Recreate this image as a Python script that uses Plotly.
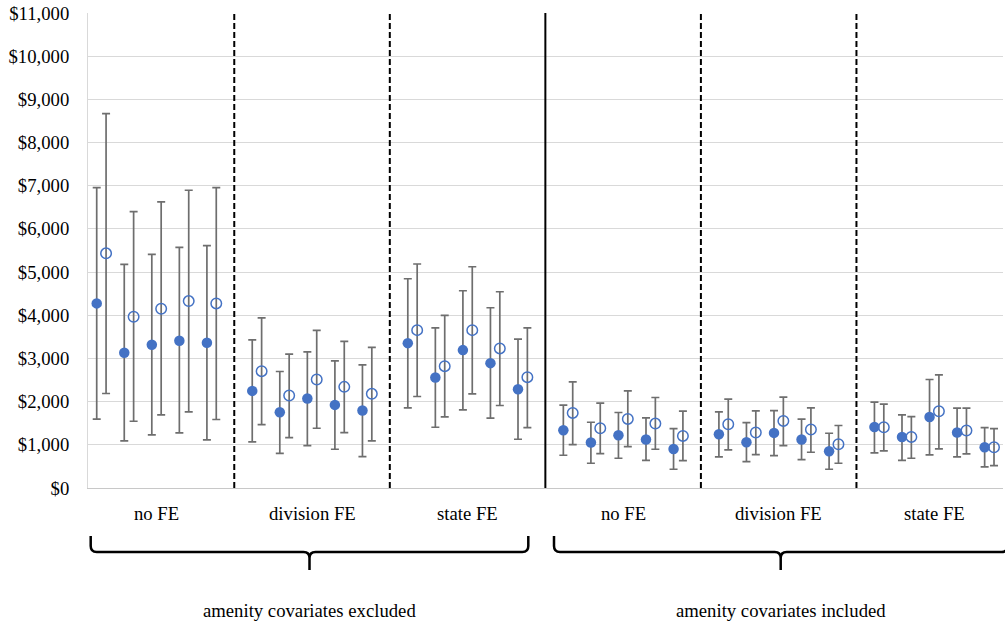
import plotly.graph_objects as go

# ---------------- data ----------------
panels = ["no FE", "division FE", "state FE", "no FE", "division FE", "state FE"]
groups = ["amenity covariates excluded", "amenity covariates included"]
pairs_per_panel = 5

filled_est = [4275, 3131, 3316, 3409, 3362, 2249, 1755, 2072, 1925, 1794,
              3355, 2560, 3193, 2891, 2288, 1338, 1052, 1222, 1122, 905,
              1245, 1060, 1276, 1122, 851, 1414, 1183, 1646, 1284, 944]
filled_lo = [1593, 1090, 1229, 1275, 1113, 1067, 804, 982, 897, 728,
             1855, 1407, 1809, 1616, 1129, 758, 573, 689, 642, 434,
             719, 612, 751, 658, 434, 812, 642, 765, 719, 487]
filled_hi = [6956, 5180, 5412, 5574, 5611, 3432, 2698, 3153, 2945, 2852,
             4846, 3710, 4568, 4174, 3448, 1917, 1523, 1748, 1623, 1377,
             1762, 1516, 1794, 1593, 1268, 1987, 1693, 2513, 1848, 1400]
open_est = [5435, 3965, 4150, 4329, 4275, 2706, 2142, 2513, 2342, 2180,
            3656, 2822, 3656, 3232, 2567, 1739, 1384, 1600, 1492, 1206,
            1477, 1284, 1554, 1354, 1013, 1407, 1183, 1778, 1331, 944]
open_lo = [2188, 1546, 1693, 1762, 1586, 1469, 1168, 1384, 1284, 1090,
           2119, 1646, 2180, 1910, 1400, 1006, 797, 959, 897, 635,
           881, 774, 982, 828, 573, 858, 689, 904, 788, 519]
open_hi = [8672, 6400, 6624, 6895, 6956, 3942, 3100, 3649, 3394, 3255,
           5187, 3997, 5124, 4545, 3710, 2458, 1964, 2249, 2096, 1778,
           2057, 1786, 2103, 1855, 1447, 1941, 1655, 2620, 1848, 1377]

# ---------------- layout geometry ----------------
W, H = 1005, 623
ML, MR, MT, MB = 88, 2, 13, 135
PLOT_W = W - ML - MR
PLOT_H = H - MT - MB

SLOT_PX = 27.55           # pixel width of one pair step
X_MAX = PLOT_W / SLOT_PX
FIRST = 0.316             # first filled point
PERIOD = 5.646            # panel period
OPEN_OFF = 0.34           # open-marker offset from filled

def pos(i):
    p, k = divmod(i, pairs_per_panel)
    return FIRST + p * PERIOD + k

xf = [pos(i) for i in range(len(filled_est))]
xo = [x + OPEN_OFF for x in xf]

def px2paper_x(px):
    return (px - ML) / PLOT_W

def py2paper_y(py):
    return (H - MB - py) / PLOT_H

def x2paper(x):
    return x / X_MAX

BLUE = "#4472C4"
ERR = "#6e6e6e"
FONT = "Liberation Serif, Times New Roman, serif"

fig = go.Figure()
fig.add_trace(go.Scatter(
    x=xf, y=filled_est, mode="markers",
    marker=dict(symbol="circle", size=10.5, color=BLUE),
    error_y=dict(type="data", symmetric=False,
                 array=[h - e for h, e in zip(filled_hi, filled_est)],
                 arrayminus=[e - l for e, l in zip(filled_est, filled_lo)],
                 color=ERR, thickness=1.7, width=4),
    showlegend=False, cliponaxis=False))
fig.add_trace(go.Scatter(
    x=xo, y=open_est, mode="markers",
    marker=dict(symbol="circle-open", size=10.5, color=BLUE, line=dict(width=1.5, color=BLUE)),
    error_y=dict(type="data", symmetric=False,
                 array=[h - e for h, e in zip(open_hi, open_est)],
                 arrayminus=[e - l for e, l in zip(open_est, open_lo)],
                 color=ERR, thickness=1.7, width=4),
    showlegend=False, cliponaxis=False))

shapes = []
annotations = []
n_panels = len(panels)
for p in range(n_panels - 1):
    last_open = pos(p * pairs_per_panel + pairs_per_panel - 1) + OPEN_OFF
    next_first = pos((p + 1) * pairs_per_panel)
    bx = (last_open + next_first) / 2
    solid = (p == 2)
    shapes.append(dict(type="line", xref="x", yref="paper", x0=bx, x1=bx, y0=0, y1=1,
                       line=dict(color="black", width=2,
                                 dash="solid" if solid else "6px,3px")))

for p, name in enumerate(panels):
    first = pos(p * pairs_per_panel)
    last = pos(p * pairs_per_panel + pairs_per_panel - 1) + OPEN_OFF
    cx = (first + last) / 2
    annotations.append(dict(x=x2paper(cx), y=py2paper_y(513), xref="paper", yref="paper",
                            text=name, showarrow=False,
                            font=dict(family=FONT, size=18.7, color="black"),
                            xanchor="center", yanchor="middle"))

# braces
brace_spans = [(90.7, 528.3), (554.0, 1007.4)]
for (x0p, x1p), label in zip(brace_spans, groups):
    xm = (x0p + x1p) / 2
    ytop, yh, ytip = 536, 552, 570
    r = 6
    X = px2paper_x
    Y = py2paper_y
    path = (f"M {X(x0p)},{Y(ytop)} L {X(x0p)},{Y(yh - r)} "
            f"Q {X(x0p)},{Y(yh)} {X(x0p + r)},{Y(yh)} "
            f"L {X(xm - r)},{Y(yh)} Q {X(xm)},{Y(yh)} {X(xm)},{Y(yh + r)} "
            f"L {X(xm)},{Y(ytip)} "
            f"M {X(xm)},{Y(yh + r)} Q {X(xm)},{Y(yh)} {X(xm + r)},{Y(yh)} "
            f"L {X(x1p - r)},{Y(yh)} Q {X(x1p)},{Y(yh)} {X(x1p)},{Y(yh - r)} "
            f"L {X(x1p)},{Y(ytop)}")
    shapes.append(dict(type="path", xref="paper", yref="paper", path=path,
                       line=dict(color="black", width=2.5)))
    annotations.append(dict(x=X(xm), y=Y(610), xref="paper", yref="paper",
                            text=label, showarrow=False,
                            font=dict(family=FONT, size=18.7, color="black"),
                            xanchor="center", yanchor="middle"))

fig.update_layout(
    width=W, height=H,
    margin=dict(l=ML, r=MR, t=MT, b=MB),
    paper_bgcolor="white", plot_bgcolor="white",
    shapes=shapes, annotations=annotations,
    xaxis=dict(range=[0, X_MAX], showgrid=False, zeroline=False, showticklabels=False,
               ticks="", showline=True, linecolor="#c8c8c8", linewidth=1),
    yaxis=dict(range=[0, 11000], dtick=1000, tickprefix="$", tickformat=",d",
               showgrid=True, gridcolor="#d9d9d9", gridwidth=1, zeroline=False,
               showline=True, linecolor="#d9d9d9", linewidth=1, ticks="",
               ticklabelstandoff=14,
               tickfont=dict(family=FONT, size=18.7, color="black")),
)

fig.write_html("out.html")
